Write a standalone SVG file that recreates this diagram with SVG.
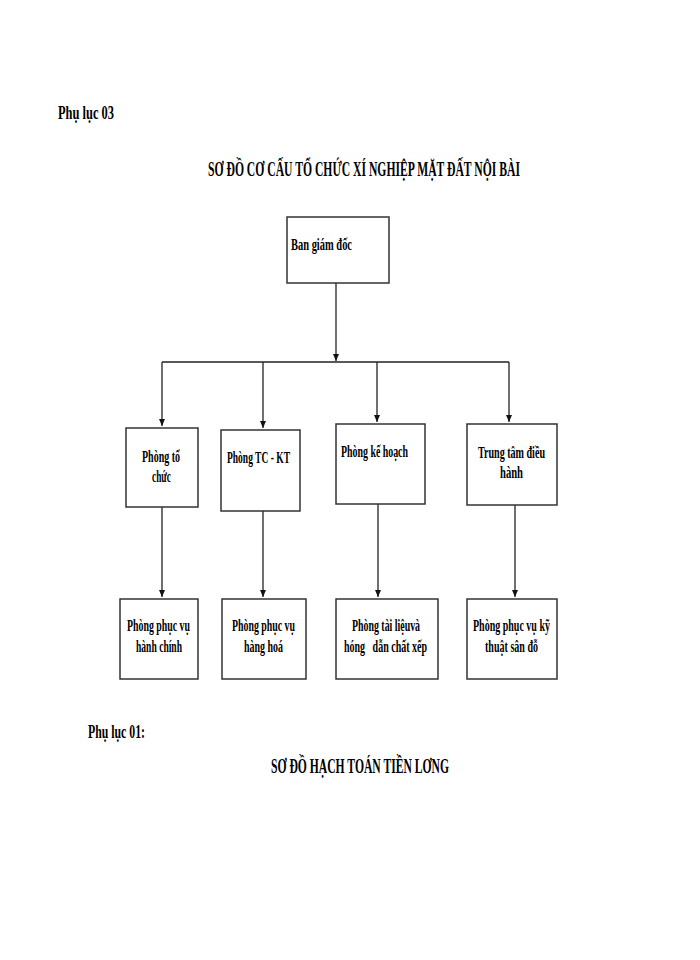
<svg xmlns="http://www.w3.org/2000/svg" width="700" height="960" viewBox="0 0 700 960">
<style>
text{font-family:"Liberation Serif","Times New Roman",serif;font-weight:bold;fill:#000;white-space:pre}
.t{font-size:16px}
.h{font-size:18px}
.title{font-size:21px}
.box{fill:#fff;stroke:#333;stroke-width:1.5}
.ln{fill:none;stroke:#222;stroke-width:1.3}
</style>
<defs>
<marker id="ar" markerWidth="8" markerHeight="8" refX="7" refY="4" orient="auto" markerUnits="userSpaceOnUse">
<path d="M0,1 L7,4 L0,7 Z" fill="#111"/>
</marker>
</defs>
<rect width="700" height="960" fill="#fff"/>
<text class="h" x="58" y="119" textLength="56" lengthAdjust="spacingAndGlyphs">Phụ lục 03</text>
<text class="title" x="208" y="176" textLength="312" lengthAdjust="spacingAndGlyphs">SƠ ĐỒ CƠ CẤU TỔ CHỨC XÍ NGHIỆP MẶT ĐẤT NỘI BÀI</text>

<g id="connectors">
<path class="ln" d="M336,283 V361" marker-end="url(#ar)"/>
<path class="ln" d="M162,362 H509"/>
<path class="ln" d="M162,362 V426" marker-end="url(#ar)"/>
<path class="ln" d="M263,362 V428" marker-end="url(#ar)"/>
<path class="ln" d="M377,362 V422" marker-end="url(#ar)"/>
<path class="ln" d="M509,362 V422" marker-end="url(#ar)"/>
<path class="ln" d="M162,507 V597" marker-end="url(#ar)"/>
<path class="ln" d="M263,511 V597" marker-end="url(#ar)"/>
<path class="ln" d="M378,504 V597" marker-end="url(#ar)"/>
<path class="ln" d="M515,505 V597" marker-end="url(#ar)"/>
</g>

<g id="ban-giam-doc">
<rect class="box" x="287" y="217" width="102" height="66"/>
<text class="t" x="291" y="250" textLength="61" lengthAdjust="spacingAndGlyphs">Ban giám đốc</text>
</g>

<g id="phong-to-chuc">
<rect class="box" x="126" y="428" width="72" height="79"/>
<text class="t" x="142" y="462" textLength="38" lengthAdjust="spacingAndGlyphs">Phòng tổ</text>
<text class="t" x="152" y="482" textLength="19" lengthAdjust="spacingAndGlyphs">chức</text>
</g>

<g id="phong-tc-kt">
<rect class="box" x="221" y="430" width="79" height="81"/>
<text class="t" x="227" y="463" textLength="63" lengthAdjust="spacingAndGlyphs">Phòng TC - KT</text>
</g>

<g id="phong-ke-hoach">
<rect class="box" x="336" y="424" width="89" height="80"/>
<text class="t" x="341" y="457" textLength="67" lengthAdjust="spacingAndGlyphs">Phòng kế hoạch</text>
</g>

<g id="trung-tam-dieu-hanh">
<rect class="box" x="467" y="424" width="90" height="81"/>
<text class="t" x="478" y="458" textLength="67" lengthAdjust="spacingAndGlyphs">Trung tâm điều</text>
<text class="t" x="500" y="478" textLength="23" lengthAdjust="spacingAndGlyphs">hành</text>
</g>

<g id="phong-phuc-vu-hanh-chinh">
<rect class="box" x="120" y="599" width="78" height="80"/>
<text class="t" x="127" y="631" textLength="63" lengthAdjust="spacingAndGlyphs">Phòng phục vụ</text>
<text class="t" x="136" y="652" textLength="46" lengthAdjust="spacingAndGlyphs">hành chính</text>
</g>

<g id="phong-phuc-vu-hang-hoa">
<rect class="box" x="222" y="599" width="84" height="80"/>
<text class="t" x="232" y="631" textLength="63" lengthAdjust="spacingAndGlyphs">Phòng phục vụ</text>
<text class="t" x="244" y="652" textLength="39" lengthAdjust="spacingAndGlyphs">hàng hoá</text>
</g>

<g id="phong-tai-lieu">
<rect class="box" x="336" y="599" width="102" height="80"/>
<text class="t" x="352" y="631" textLength="68" lengthAdjust="spacingAndGlyphs">Phòng tài liệuvà</text>
<text class="t" x="344" y="652" textLength="83" lengthAdjust="spacingAndGlyphs">hóng   dẫn chất xếp</text>
</g>

<g id="phong-phuc-vu-ky-thuat">
<rect class="box" x="467" y="599" width="90" height="80"/>
<text class="t" x="473" y="631" textLength="77" lengthAdjust="spacingAndGlyphs">Phòng phục vụ kỹ</text>
<text class="t" x="485" y="652" textLength="53" lengthAdjust="spacingAndGlyphs">thuật sân đỗ</text>
</g>

<text class="h" x="88" y="738" textLength="57" lengthAdjust="spacingAndGlyphs">Phụ lục 01:</text>
<text class="title" x="271" y="773" textLength="178" lengthAdjust="spacingAndGlyphs">SƠ ĐỒ HẠCH TOÁN TIỀN LƠNG</text>
</svg>
